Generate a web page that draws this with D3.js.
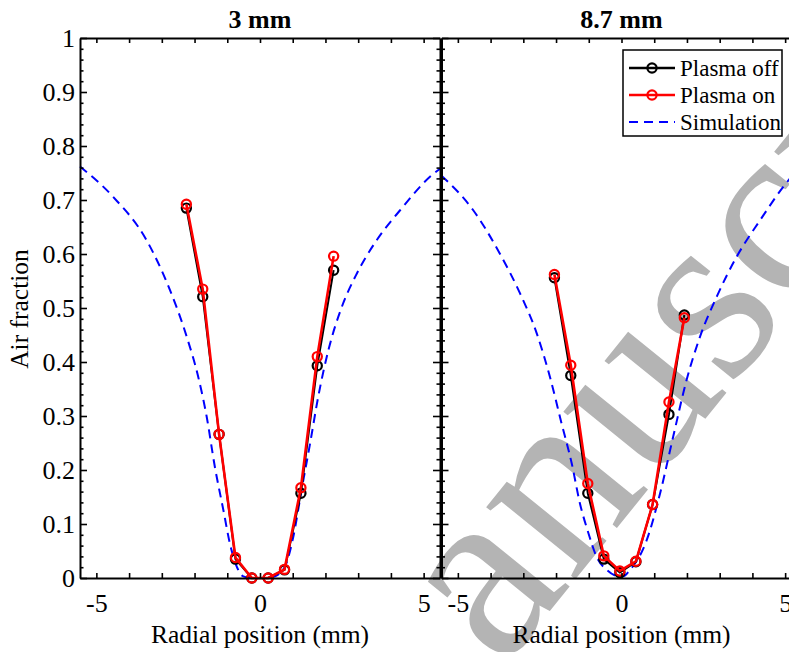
<!DOCTYPE html>
<html>
<head>
<meta charset="utf-8">
<script src="https://cdn.jsdelivr.net/npm/d3@7"></script>
<style>
  body { margin: 0; background: #fff; }
  svg { display: block; font-family: "Liberation Serif", "Times New Roman", "DejaVu Serif", serif; }
  .axis .domain { stroke: #000; stroke-width: 2; }
  .axis line { stroke: #000; stroke-width: 1.6; }
  .axis text { font-size: 26px; fill: #000; font-family: "Liberation Serif", "DejaVu Serif", serif; }
</style>
</head>
<body>
<div id="chart"></div>
<script>
// panel titles
const panelTitles = ['3 mm', '8.7 mm'];

// measured points, 3 mm
const xLeft = [-2.25, -1.75, -1.25, -0.75, -0.25, 0.25, 0.75, 1.25, 1.75, 2.25];
const offLeft = [0.685, 0.521, 0.266, 0.035, 0.0, 0.0, 0.015, 0.157, 0.393, 0.570];
const onLeft = [0.692, 0.535, 0.266, 0.038, 0.0, 0.0, 0.016, 0.167, 0.410, 0.596];

// measured points, 8.7 mm
const xRight = [-2.05, -1.55, -1.03, -0.54, -0.05, 0.44, 0.95, 1.45, 1.92];
const offRight = [0.556, 0.375, 0.157, 0.035, 0.010, 0.030, 0.136, 0.303, 0.487];
const onRight = [0.562, 0.394, 0.175, 0.041, 0.013, 0.031, 0.136, 0.326, 0.482];

// simulation curves
const simXLeft = [-5.5, -4.49, -3.47, -2.75, -2.24, -1.89, -1.63, -1.38, -1.12, -0.92, -0.71, -0.51, -0.25, 0, 0.25, 0.45, 0.76, 1.02, 1.27, 1.53, 1.78, 2.09, 2.5, 2.96, 3.57, 4.28, 5.25, 5.5];
const simLeft = [0.762, 0.706, 0.626, 0.533, 0.447, 0.373, 0.299, 0.206, 0.126, 0.064, 0.021, 0.003, 0.0, 0.0, 0.0, 0.003, 0.021, 0.077, 0.163, 0.249, 0.336, 0.422, 0.502, 0.564, 0.626, 0.681, 0.746, 0.758];
const simXRight = [-5.5, -4.53, -3.72, -3.1, -2.59, -2.19, -1.83, -1.52, -1.27, -1.01, -0.76, -0.45, -0.15, 0.05, 0.26, 0.77, 1.18, 1.58, 1.99, 2.4, 2.91, 3.52, 4.24, 4.95, 5.5];
const simRight = [0.745, 0.681, 0.601, 0.527, 0.453, 0.373, 0.286, 0.212, 0.138, 0.083, 0.039, 0.015, 0.004, 0.003, 0.015, 0.070, 0.157, 0.262, 0.367, 0.447, 0.521, 0.595, 0.663, 0.725, 0.765];

// ticks
const xTicks = [-5, -4, -3, -2, -1, 0, 1, 2, 3, 4, 5];
const xTickLabels = {'-5': '-5', '0': '0', '5': '5'};
const yMajor = [0, 0.1, 0.2, 0.3, 0.4, 0.5, 0.6, 0.7, 0.8, 0.9, 1];
const yTickLabels = ['0', '0.1', '0.2', '0.3', '0.4', '0.5', '0.6', '0.7', '0.8', '0.9', '1'];
const yMinor = d3.range(0, 51).map(i => i / 50).filter(v => Math.round(v * 50) % 5 !== 0);

const legendLabels = ['Plasma off', 'Plasma on', 'Simulation'];

const W = 789, H = 652;
const plotTop = 38, plotBottom = 578;

const svg = d3.select('#chart').append('svg')
    .attr('width', W)
    .attr('height', H);

// watermark behind everything (only its visible part)
svg.append('text')
    .attr('transform', 'translate(502,670) rotate(-51)')
    .attr('font-size', 250)
    .attr('fill', '#b4b4b4')
    .text('anuscript');

const y = d3.scaleLinear().domain([0, 1]).range([plotBottom, plotTop]);

const panels = [
    { title: panelTitles[0], range: [80, 440], xs: xLeft, off: offLeft, on: onLeft, sx: simXLeft, sim: simLeft, yLabels: true, legend: false },
    { title: panelTitles[1], range: [441.5, 801.5], xs: xRight, off: offRight, on: onRight, sx: simXRight, sim: simRight, yLabels: false, legend: true },
];

panels.forEach(p => {
    const x = d3.scaleLinear().domain([-5.5, 5.5]).range(p.range);
    const g = svg.append('g');

    // simulation
    const simLine = d3.line()
        .x(d => x(d[0]))
        .y(d => y(d[1]))
        .curve(d3.curveMonotoneX);
    g.append('path')
        .datum(d3.zip(p.sx, p.sim))
        .attr('fill', 'none')
        .attr('stroke', '#0000ff')
        .attr('stroke-width', 2)
        .attr('stroke-dasharray', '9,6')
        .attr('d', simLine);

    const line = d3.line().x(d => x(d[0])).y(d => y(d[1]));
    [[p.off, '#000', 2], [p.on, '#ff0000', 2.6]].forEach(([vals, col, w]) => {
        const pts = d3.zip(p.xs, vals);
        g.append('path')
            .datum(pts)
            .attr('fill', 'none')
            .attr('stroke', col)
            .attr('stroke-width', w)
            .attr('d', line);
        g.selectAll(null)
            .data(pts)
            .join('circle')
            .attr('cx', d => x(d[0]))
            .attr('cy', d => y(d[1]))
            .attr('r', 4.6)
            .attr('fill', 'none')
            .attr('stroke', col)
            .attr('stroke-width', 2.2);
    });

    // axes
    g.append('g').attr('class', 'axis')
        .attr('transform', `translate(0,${plotBottom})`)
        .call(d3.axisBottom(x).tickValues(xTicks).tickSize(-5).tickSizeOuter(0).tickPadding(16)
            .tickFormat(d => xTickLabels[d] || ''));
    g.append('g').attr('class', 'axis')
        .attr('transform', `translate(0,${plotTop})`)
        .call(d3.axisTop(x).tickValues(xTicks).tickSize(-5).tickSizeOuter(0).tickFormat(''));

    [[d3.axisLeft, p.range[0]], [d3.axisRight, p.range[1]]].forEach(([ax, pos], i) => {
        g.append('g').attr('class', 'axis')
            .attr('transform', `translate(${pos},0)`)
            .call(ax(y).tickValues(yMajor).tickSize(-7).tickSizeOuter(0).tickPadding(5)
                .tickFormat((d, k) => (i === 0 && p.yLabels) ? yTickLabels[k] : ''));
        g.append('g').attr('class', 'axis')
            .attr('transform', `translate(${pos},0)`)
            .call(ax(y).tickValues(yMinor).tickSize(-3.5).tickSizeOuter(0).tickFormat(''))
            .select('.domain').remove();
    });

    const cx = (p.range[0] + p.range[1]) / 2;
    g.append('text')
        .attr('x', cx).attr('y', 28)
        .attr('text-anchor', 'middle')
        .attr('font-size', 26)
        .attr('font-weight', 'bold')
        .text(p.title);
    g.append('text')
        .attr('x', cx).attr('y', 643)
        .attr('text-anchor', 'middle')
        .attr('font-size', 25.5)
        .text('Radial position (mm)');

    if (p.legend) {
        const lg = g.append('g').attr('transform', 'translate(623,50)');
        lg.append('rect')
            .attr('width', 159).attr('height', 86)
            .attr('fill', '#fff').attr('stroke', '#000').attr('stroke-width', 1.5);
        const styles = [
            { col: '#000', dash: null, mark: true },
            { col: '#ff0000', dash: null, mark: true },
            { col: '#0000ff', dash: '9,6', mark: false },
        ];
        legendLabels.forEach((lab, i) => {
            const ry = 18 + i * 27;
            lg.append('line')
                .attr('x1', 6).attr('x2', 52).attr('y1', ry).attr('y2', ry)
                .attr('stroke', styles[i].col)
                .attr('stroke-width', styles[i].mark ? 2.6 : 2)
                .attr('stroke-dasharray', styles[i].dash);
            if (styles[i].mark) {
                lg.append('circle')
                    .attr('cx', 29).attr('cy', ry).attr('r', 4.6)
                    .attr('fill', 'none').attr('stroke', styles[i].col).attr('stroke-width', 2.2);
            }
            lg.append('text')
                .attr('x', 57).attr('y', ry + 8)
                .attr('font-size', 23)
                .text(lab);
        });
    }
});

svg.append('text')
    .attr('transform', 'translate(28,309) rotate(-90)')
    .attr('text-anchor', 'middle')
    .attr('font-size', 25.5)
    .text('Air fraction');
</script>
</body>
</html>
